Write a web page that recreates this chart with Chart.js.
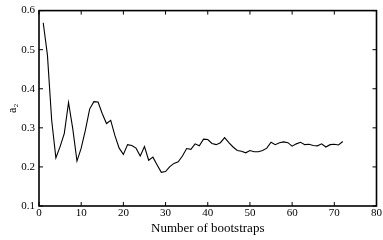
<!DOCTYPE html>
<html>
<head>
<meta charset="utf-8">
<script src="https://cdn.jsdelivr.net/npm/chart.js@4"></script>
<style>
  html, body { margin: 0; padding: 0; background: #fff; }
  #wrap { width: 383px; height: 240px; }
</style>
</head>
<body>
<div id="wrap"><canvas id="chart"></canvas></div>
<script>
// Bootstrap count (x) and estimated a2 value (y)
const bootstraps = Array.from({ length: 72 }, (_, i) => i + 1)
const a2Values = [
  0.569, 0.486, 0.320, 0.223, 0.252, 0.286, 0.365, 0.298, 0.215, 0.248,
  0.294, 0.348, 0.367, 0.366, 0.336, 0.311, 0.319, 0.280, 0.248, 0.232,
  0.257, 0.255, 0.248, 0.228, 0.252, 0.217, 0.225, 0.205, 0.186, 0.188,
  0.201, 0.209, 0.213, 0.228, 0.247, 0.245, 0.259, 0.254, 0.271, 0.270,
  0.260, 0.257, 0.262, 0.275, 0.262, 0.251, 0.242, 0.240, 0.236, 0.242,
  0.239, 0.239, 0.242, 0.248, 0.263, 0.257, 0.262, 0.264, 0.262, 0.253,
  0.259, 0.263, 0.257, 0.258, 0.255, 0.254, 0.259, 0.251, 0.257, 0.258,
  0.256, 0.265
]
const xTicks = [0, 10, 20, 30, 40, 50, 60, 70, 80]
const yTicks = [0.1, 0.2, 0.3, 0.4, 0.5, 0.6]

const serif = 'Liberation Serif'

// Box frame with inward tick marks on all four sides
const framePlugin = {
  id: 'frame',
  afterDatasetsDraw (chart) {
    const { ctx, chartArea: a, scales } = chart
    const len = 4
    ctx.save()
    ctx.strokeStyle = '#000'
    ctx.lineWidth = 1
    xTicks.forEach(v => {
      const px = scales.x.getPixelForValue(v)
      ctx.beginPath()
      ctx.moveTo(px, a.bottom); ctx.lineTo(px, a.bottom - len)
      ctx.moveTo(px, a.top); ctx.lineTo(px, a.top + len)
      ctx.stroke()
    })
    yTicks.forEach(v => {
      const py = scales.y.getPixelForValue(v)
      ctx.beginPath()
      ctx.moveTo(a.left, py); ctx.lineTo(a.left + len, py)
      ctx.moveTo(a.right, py); ctx.lineTo(a.right - len, py)
      ctx.stroke()
    })
    ctx.lineWidth = 1.6
    ctx.strokeRect(a.left, a.top, a.right - a.left, a.bottom - a.top)
    ctx.restore()
  }
}

new Chart(document.getElementById('chart'), {
  type: 'line',
  data: {
    datasets: [{
      data: bootstraps.map((b, i) => ({ x: b, y: a2Values[i] })),
      borderColor: '#000',
      borderWidth: 1.1,
      pointRadius: 0,
      tension: 0
    }]
  },
  options: {
    responsive: true,
    maintainAspectRatio: false,
    animation: false,
    layout: { padding: { top: 6, right: 3, left: 0, bottom: 0 } },
    plugins: { legend: { display: false }, tooltip: { enabled: false } },
    scales: {
      x: {
        type: 'linear',
        min: 0,
        max: 80,
        grid: { display: false, drawTicks: false },
        border: { display: false },
        afterBuildTicks: (s) => { s.ticks = xTicks.map(v => ({ value: v })) },
        afterFit: (s) => { s.height = 34 },
        ticks: { color: '#000', padding: 1, maxRotation: 0, font: { family: serif, size: 11 } },
        title: { display: true, text: 'Number of bootstraps', color: '#000', padding: { top: 0, bottom: 4 }, font: { family: serif, size: 13 } }
      },
      y: {
        min: 0.1,
        max: 0.6,
        grid: { display: false, drawTicks: false },
        border: { display: false },
        afterBuildTicks: (s) => { s.ticks = yTicks.map(v => ({ value: v })) },
        afterFit: (s) => { s.width = 39 },
        ticks: { color: '#000', padding: 4, callback: (v) => v.toFixed(1), font: { family: serif, size: 11 } },
        title: { display: true, text: 'a₂', color: '#000', padding: { top: 6, bottom: 0 }, font: { family: serif, size: 12 } }
      }
    }
  },
  plugins: [framePlugin]
})
</script>
</body>
</html>
